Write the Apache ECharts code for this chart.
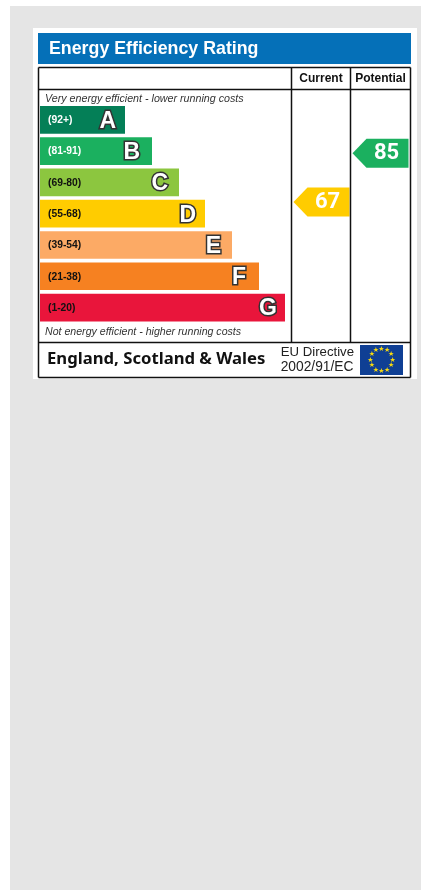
<!DOCTYPE html>
<html>
<head>
<meta charset="utf-8">
<style>
  html, body { margin: 0; padding: 0; background: #fff; }
  #chart { width: 421px; height: 890px; }
</style>
<script src="https://cdn.jsdelivr.net/npm/echarts@6/dist/echarts.min.js"></script>
</head>
<body>
<div id="chart"></div>
<script>
// Bands, top to bottom
const bandLetters = ['A', 'B', 'C', 'D', 'E', 'F', 'G']
const bandRanges = ['(92+)', '(81-91)', '(69-80)', '(55-68)', '(39-54)', '(21-38)', '(1-20)']
const bandLengths = [85, 112, 139, 165, 192, 219, 245]
const bandColors = ['#047f57', '#1bb05f', '#8cc63f', '#ffcc00', '#fcaa65', '#f68121', '#e9153b']
const rangeTextColors = ['#fff', '#fff', '#111', '#111', '#111', '#111', '#111']

// Scores
const scoreColumns = ['Current', 'Potential']
const scoreValues = [67, 85]
const scoreColors = ['#ffcc00', '#1bb05f']

// the letters don't sit at a constant distance from the bar end
const letterInsets = [9, 12, 11, 9, 11, 13, 8]

const chart = echarts.init(document.getElementById('chart'))

const line = (x1, y1, x2, y2) => ({
  type: 'line',
  shape: { x1, y1, x2, y2 },
  style: { stroke: '#111', lineWidth: 1.5 },
  z: 5
})

const label = (x, y, text, font, fill, align) => ({
  type: 'text',
  x,
  y,
  z: 6,
  style: { text, font, fill: fill || '#111', align: align || 'left', verticalAlign: 'middle' }
})

const rect = (x, y, width, height, fill) => ({
  type: 'rect',
  shape: { x, y, width, height },
  style: { fill },
  z: 1
})

// 12 stars on the EU flag
const flagStars = []
for (let i = 0; i < 12; i++) {
  const a = i / 12 * Math.PI * 2
  flagStars.push({
    type: 'text',
    x: 381.5 + Math.sin(a) * 11.2,
    y: 360 - Math.cos(a) * 11.2,
    z: 7,
    style: { text: '★', font: '7px "DejaVu Sans"', fill: '#f7d90f', align: 'center', verticalAlign: 'middle' }
  })
}

const option = {
  animation: false,
  backgroundColor: '#fff',
  grid: [
    { left: 40, top: 104.2, width: 245, height: 219 },
    { left: 292, top: 112.7, width: 118, height: 216.4 }
  ],
  xAxis: [
    { gridIndex: 0, type: 'value', min: 0, max: 245, show: false },
    { gridIndex: 1, type: 'category', data: scoreColumns, show: false }
  ],
  yAxis: [
    { gridIndex: 0, type: 'category', data: bandLetters, inverse: true, show: false },
    { gridIndex: 1, type: 'value', min: 20, max: 100, show: false }
  ],
  graphic: [
    rect(10, 6, 411, 884, '#e5e5e5'),
    rect(33, 28, 384, 351, '#fff'),
    rect(38, 33, 373, 31, '#0570b8'),
    label(49, 49, 'Energy Efficiency Rating', 'bold 17.8px "Liberation Sans"', '#fff'),
    line(38.5, 67.5, 410.5, 67.5),
    line(38.5, 89.5, 410.5, 89.5),
    line(38.5, 342.5, 410.5, 342.5),
    line(38.5, 377.5, 410.5, 377.5),
    line(38.5, 67.5, 38.5, 377.5),
    line(410.5, 67.5, 410.5, 377.5),
    line(291.5, 67.5, 291.5, 342.5),
    line(350.5, 67.5, 350.5, 342.5),
    label(321, 79, 'Current', 'bold 12px "Liberation Sans"', '#111', 'center'),
    label(380.5, 79, 'Potential', 'bold 12px "Liberation Sans"', '#111', 'center'),
    label(45, 99, 'Very energy efficient - lower running costs', 'italic 10.7px "Liberation Sans"', '#333'),
    label(45, 332, 'Not energy efficient - higher running costs', 'italic 10.6px "Liberation Sans"', '#333'),
    label(47, 359, 'England, Scotland & Wales', 'bold 16.7px "Noto Sans"', '#111'),
    label(354, 352.5, 'EU Directive', '13.2px "Liberation Sans"', '#222', 'right'),
    label(353.5, 367.5, '2002/91/EC', '13.8px "Liberation Sans"', '#222', 'right'),
    { type: 'rect', shape: { x: 360, y: 345, width: 43, height: 30 }, style: { fill: '#0f3f94' }, z: 6 },
    ...flagStars
  ],
  series: [
    {
      type: 'bar',
      xAxisIndex: 0,
      yAxisIndex: 0,
      barWidth: 27.7,
      data: bandLengths.map((v, i) => ({
        value: v,
        itemStyle: { color: bandColors[i] },
        label: {
          show: true,
          position: 'insideLeft',
          distance: 8,
          offset: [0, 0.5],
          formatter: bandRanges[i],
          fontFamily: 'Liberation Sans',
          fontWeight: 'bold',
          fontSize: 10.3,
          color: rangeTextColors[i]
        }
      }))
    },
    {
      // second pass over the same bars for the big letters
      type: 'bar',
      xAxisIndex: 0,
      yAxisIndex: 0,
      barWidth: 27.7,
      barGap: '-100%',
      data: bandLengths.map((v, i) => ({
        value: v,
        itemStyle: { color: 'transparent' },
        label: {
          show: true,
          position: 'insideRight',
          distance: letterInsets[i],
          offset: [0, 1.5],
          formatter: bandLetters[i],
          fontFamily: 'Liberation Sans',
          fontWeight: 'bold',
          fontSize: 23,
          color: '#fff',
          textBorderColor: '#333',
          textBorderWidth: 3
        }
      }))
    },
    {
      type: 'custom',
      xAxisIndex: 1,
      yAxisIndex: 1,
      data: scoreValues.map((v, i) => [i, v]),
      renderItem: (params, api) => {
        const [cx, cy] = api.coord([api.value(0), api.value(1)])
        const right = cx + 28
        const left = cx - 28
        const h = 14.5
        return {
          type: 'group',
          children: [
            {
              type: 'polygon',
              shape: { points: [[left, cy], [left + 14, cy - h], [right, cy - h], [right, cy + h], [left + 14, cy + h]] },
              style: { fill: scoreColors[params.dataIndex] }
            },
            {
              type: 'text',
              x: cx + 6,
              y: cy + 0.5,
              style: {
                text: String(api.value(1)),
                font: 'bold 22px Roboto',
                fill: '#fff',
                align: 'center',
                verticalAlign: 'middle'
              }
            }
          ]
        }
      }
    }
  ]
}

chart.setOption(option)
</script>
</body>
</html>
